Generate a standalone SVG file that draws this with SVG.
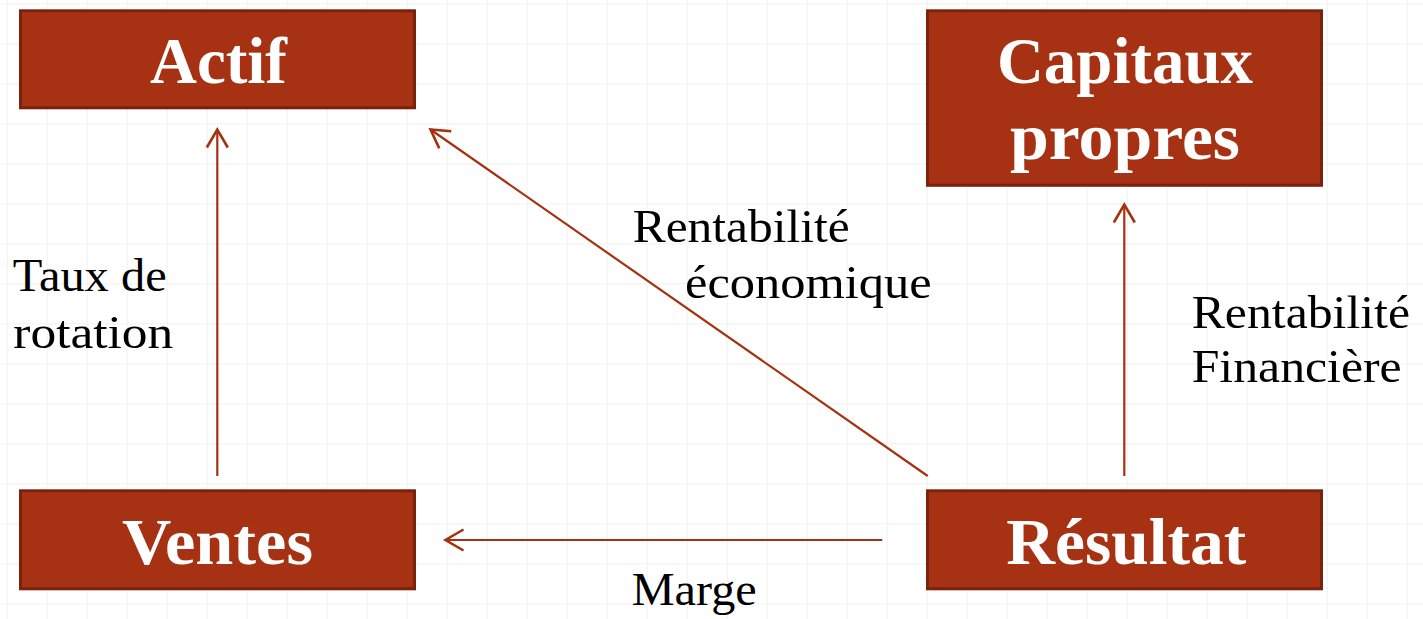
<svg xmlns="http://www.w3.org/2000/svg" width="1423" height="619" viewBox="0 0 1423 619">
<style>
.box{fill:#a73113;stroke:#7a220b;stroke-width:3}
.title{font-family:"Liberation Serif",serif;font-weight:bold;font-size:65px;fill:#ffffff;text-anchor:middle}
.lbl{font-family:"Liberation Serif",serif;font-size:47px;fill:#000000}
.conn{stroke:#a5310f;stroke-width:2.2;fill:none}
</style>
<defs>
<pattern id="grid" x="6.7" y="3.3" width="40" height="40" patternUnits="userSpaceOnUse">
<path d="M0,0 H40 M0,0 V40" stroke="#f1f1f1" stroke-width="2" fill="none"/>
</pattern>
<marker id="arr" viewBox="-22 -13 26 26" refX="0" refY="0" markerWidth="26" markerHeight="26" markerUnits="userSpaceOnUse" orient="auto">
<path d="M-18,-10.5 L0,0 L-18,10.5" stroke="#a5310f" stroke-width="2.6" fill="none"/>
</marker>
</defs>
<rect width="1423" height="619" fill="#ffffff"/>
<rect width="1423" height="619" fill="url(#grid)"/>

<g id="connectors">
<line class="conn" x1="217.3" y1="476" x2="217.3" y2="129.5" marker-end="url(#arr)"/>
<line class="conn" x1="1124.3" y1="476" x2="1124.3" y2="204.5" marker-end="url(#arr)"/>
<line class="conn" x1="927.7" y1="476" x2="430.5" y2="129.5" marker-end="url(#arr)"/>
<line class="conn" x1="882.3" y1="540" x2="445.5" y2="540" marker-end="url(#arr)"/>
</g>

<g id="actif">
<rect class="box" x="20.5" y="10.8" width="394" height="97"/>
<text class="title" x="218.5" y="83" textLength="137" lengthAdjust="spacingAndGlyphs">Actif</text>
</g>
<g id="capitaux">
<rect class="box" x="927.5" y="10.8" width="394" height="174.5"/>
<text class="title" x="1125" y="83" textLength="256" lengthAdjust="spacingAndGlyphs">Capitaux</text>
<text class="title" x="1125" y="159" textLength="230" lengthAdjust="spacingAndGlyphs">propres</text>
</g>
<g id="ventes">
<rect class="box" x="20.5" y="490.8" width="394" height="98"/>
<text class="title" x="217.5" y="563.5" textLength="191" lengthAdjust="spacingAndGlyphs">Ventes</text>
</g>
<g id="resultat">
<rect class="box" x="927.5" y="490.8" width="394" height="98"/>
<text class="title" x="1126.3" y="563.5" textLength="240" lengthAdjust="spacingAndGlyphs">Résultat</text>
</g>

<g id="labels">
<text class="lbl" x="12.7" y="290.7" textLength="154" lengthAdjust="spacingAndGlyphs">Taux de</text>
<text class="lbl" x="13.3" y="348.3" textLength="160" lengthAdjust="spacingAndGlyphs">rotation</text>
<text class="lbl" x="632.7" y="241.7" textLength="217" lengthAdjust="spacingAndGlyphs">Rentabilité</text>
<text class="lbl" x="685" y="298.3" textLength="246.7" lengthAdjust="spacingAndGlyphs">économique</text>
<text class="lbl" x="1191.7" y="328.3" textLength="218.3" lengthAdjust="spacingAndGlyphs">Rentabilité</text>
<text class="lbl" x="1191.7" y="382" textLength="210" lengthAdjust="spacingAndGlyphs">Financière</text>
<text class="lbl" x="631.7" y="605" textLength="125" lengthAdjust="spacingAndGlyphs">Marge</text>
</g>
</svg>
